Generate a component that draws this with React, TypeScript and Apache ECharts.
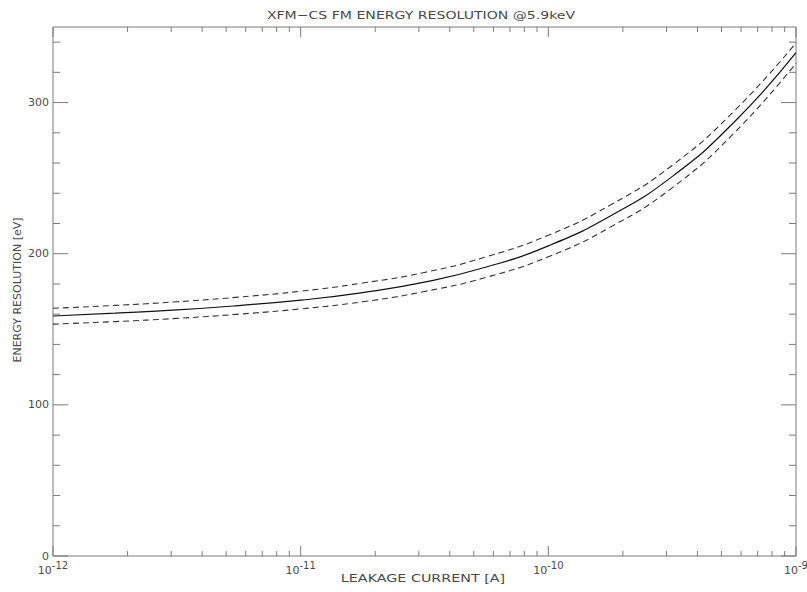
import React, { useEffect, useRef } from "react";
import * as echarts from "echarts";

// Leakage current [A] and the resulting energy resolution [eV] (nominal and bounds)
const currents = [1e-12, 1.78e-12, 3.16e-12, 5.62e-12, 1e-11, 1.78e-11, 3.16e-11, 5.62e-11, 1e-10, 1.78e-10, 3.16e-10, 5.62e-10, 1e-9];
const resolution = [158.8, 160.7, 162.8, 165.7, 169.3, 174.3, 181.2, 191.2, 205.2, 225.0, 251.0, 287.0, 333.0];
const resolutionHigh = [163.9, 165.8, 168.2, 171.3, 175.2, 180.6, 187.6, 198.0, 212.2, 232.2, 258.4, 294.3, 339.5];
const resolutionLow = [153.4, 155.1, 157.2, 160.0, 163.5, 168.2, 175.0, 184.4, 198.0, 217.6, 243.6, 279.8, 326.0];

// Tick positions
const xDecades = [1e-12, 1e-11, 1e-10, 1e-9];
const xMinorSteps = [2, 3, 4, 5, 6, 7, 8, 9];
const yMajorTicks = [0, 100, 200, 300];
const yMinorTicks = [20, 40, 60, 80, 120, 140, 160, 180, 220, 240, 260, 280, 320, 340];

const TITLE = "XFM\u2212CS FM ENERGY RESOLUTION @5.9keV";
const X_NAME = "LEAKAGE CURRENT [A]";
const Y_NAME = "ENERGY RESOLUTION [eV]";

const FONT = "DejaVu Sans";
const TEXT = "#4a4a4a";
const FRAME = "#7a7a7a";

export default function App() {
  const ref = useRef<HTMLDivElement>(null);

  useEffect(() => {
    if (!ref.current) return;
    const chart = echarts.init(ref.current, undefined, { renderer: "svg" });

    const xTicks: [number, number][] = [];
    xDecades.forEach((d, i) => {
      xTicks.push([d, 1]);
      if (i < xDecades.length - 1) xMinorSteps.forEach((m) => xTicks.push([m * d, 0]));
    });
    const yTicks: [number, number][] = [
      ...yMajorTicks.map((v) => [v, 1] as [number, number]),
      ...yMinorTicks.map((v) => [v, 0] as [number, number]),
    ];

    const pairs = (ys: number[]) => currents.map((c, i) => [c, ys[i]]);

    const tickStyle = { stroke: FRAME, lineWidth: 1 };
    const wideText = (text: string, x: number, y: number, scaleX: number) => ({
      type: "text",
      x,
      y,
      scaleX,
      silent: true,
      style: { text, font: `11px "${FONT}"`, fill: TEXT, textAlign: "center", textVerticalAlign: "middle" },
    });

    chart.setOption({
      animation: false,
      backgroundColor: "#ffffff",
      grid: {
        left: 53,
        right: 11,
        top: 27,
        bottom: 36,
        containLabel: false,
        outerBoundsMode: "none",
        show: true,
        borderColor: FRAME,
        borderWidth: 1,
      },
      graphic: [
        wideText(TITLE, 421, 15, 1.28),
        wideText(X_NAME, 423, 578, 1.3),
        {
          type: "text",
          x: 17,
          y: 290,
          rotation: Math.PI / 2,
          silent: true,
          style: { text: Y_NAME, font: `11px "${FONT}"`, fill: TEXT, textAlign: "center", textVerticalAlign: "middle" },
        },
      ],
      xAxis: {
        type: "log",
        logBase: 10,
        min: 1e-12,
        max: 1e-9,
        axisLine: { show: false },
        axisTick: { show: false },
        splitLine: { show: false },
        axisLabel: {
          margin: 4,
          formatter: (v: number) => `{b|10}{s|-${Math.round(-Math.log10(v))}}`,
          rich: {
            b: { fontFamily: FONT, fontSize: 11, color: TEXT, verticalAlign: "bottom" },
            s: { fontFamily: FONT, fontSize: 10, color: TEXT, verticalAlign: "bottom", padding: [0, 0, 6, 0] },
          },
        },
      },
      yAxis: {
        type: "value",
        min: 0,
        max: 350,
        interval: 100,
        axisLine: { show: false },
        axisTick: { show: false },
        splitLine: { show: false },
        axisLabel: {
          margin: 4,
          fontFamily: FONT,
          fontSize: 11,
          color: TEXT,
          formatter: (v: number) => (yMajorTicks.includes(v) ? String(v) : ""),
        },
      },
      series: [
        {
          type: "line",
          data: pairs(resolution),
          smooth: true,
          symbol: "none",
          lineStyle: { color: "#111111", width: 1.2, type: "solid" },
        },
        {
          type: "line",
          data: pairs(resolutionHigh),
          smooth: true,
          symbol: "none",
          lineStyle: { color: "#333333", width: 1.1, type: [6, 4] },
        },
        {
          type: "line",
          data: pairs(resolutionLow),
          smooth: true,
          symbol: "none",
          lineStyle: { color: "#333333", width: 1.1, type: [6, 4] },
        },
        {
          // tick marks along bottom and top edges
          type: "custom",
          data: xTicks,
          encode: { x: 0 },
          silent: true,
          renderItem: (params: any, api: any) => {
            const cs = params.coordSys;
            const px = api.coord([api.value(0), 0])[0];
            const len = api.value(1) ? 10 : 5;
            const bottom = cs.y + cs.height;
            return {
              type: "group",
              children: [
                { type: "line", shape: { x1: px, y1: bottom, x2: px, y2: bottom - len }, style: tickStyle },
                { type: "line", shape: { x1: px, y1: cs.y, x2: px, y2: cs.y + len }, style: tickStyle },
              ],
            };
          },
        },
        {
          // tick marks along left and right edges
          type: "custom",
          data: yTicks.map(([v, m]) => [1e-12, v, m]),
          encode: { x: 0, y: 1 },
          silent: true,
          renderItem: (params: any, api: any) => {
            const cs = params.coordSys;
            const py = api.coord([1e-12, api.value(1)])[1];
            const len = api.value(2) ? 15 : 7;
            const right = cs.x + cs.width;
            return {
              type: "group",
              children: [
                { type: "line", shape: { x1: cs.x, y1: py, x2: cs.x + len, y2: py }, style: tickStyle },
                { type: "line", shape: { x1: right, y1: py, x2: right - len, y2: py }, style: tickStyle },
              ],
            };
          },
        },
      ],
    });

    return () => chart.dispose();
  }, []);

  return <div ref={ref} style={{ position: "fixed", left: 0, top: 0, width: 807, height: 592 }} />;
}
